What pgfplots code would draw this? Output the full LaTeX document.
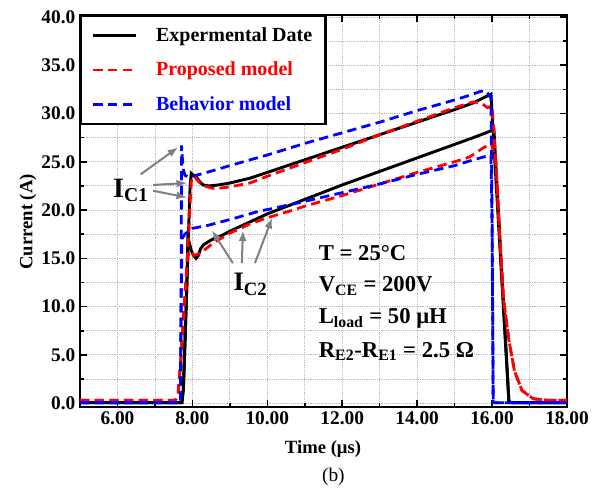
\documentclass[border=0pt]{standalone}
\usepackage{fontspec}
\setmainfont{Liberation Serif}
\usepackage{pgfplots}
\pgfplotsset{compat=1.18}
\usetikzlibrary{arrows.meta}
\definecolor{arrgray}{RGB}{128,128,128}
\begin{document}
\begin{tikzpicture}
\begin{axis}[
  at={(0pt,0pt)}, anchor=south west,
  scale only axis, width=365.25pt, height=294pt,
  xmin=5, xmax=18, ymin=-0.4, ymax=40.2,
  xtick={6,8,...,18}, ytick={0,5,...,40},
  minor x tick num=1, minor y tick num=1,
  grid=both, grid style={densely dotted, gray!55, line width=0.6pt},
  tick align=inside, major tick length=5pt, minor tick length=3pt,
  every tick/.style={black, line width=1.2pt},
  axis line style={line width=2.2pt},
  /pgf/number format/assume math mode=true,
  tick label style={font=\fontsize{14.5}{16}\selectfont\bfseries},
  xticklabel style={/pgf/number format/.cd, fixed, fixed zerofill, precision=2},
  yticklabel style={/pgf/number format/.cd, fixed, fixed zerofill, precision=1},
  xlabel={Time (μs)}, ylabel={Current (A)},
  label style={font=\fontsize{14}{16}\selectfont\bfseries},
  xlabel style={at={(axis description cs:0.499,-0.108)}, anchor=center},
  ylabel style={at={(axis description cs:-0.107,0.472)}, anchor=center},
  legend style={at={(0,1)}, anchor=north west, draw=black, line width=1.8pt, fill=white,
    font=\fontsize{15}{17}\selectfont\bfseries, inner xsep=8pt, inner ysep=6.5pt, row sep=10pt,
    /tikz/every odd column/.append style={column sep=12pt}},
  legend cell align=left,
  legend image code/.code={\draw[#1] (0pt,0pt) -- (32pt,0pt);},
]
% Experimental (black)
\addplot[black, line width=2.2pt] coordinates {
(5,0.05) (7.72,0.05) (7.76,1.5) (7.80,6) (7.85,12) (7.90,18) (7.94,22.5) (7.97,23.8)
(8.03,23.6) (8.10,23.5) (8.18,23.0) (8.28,22.6) (8.45,22.5) (8.7,22.6) (9.0,22.8)
(9.54,23.3) (10,23.9) (11,25.2) (12,26.5) (13,27.8) (14,29.1) (15,30.4) (15.5,31.1)
(15.97,32.0) (16.45,0.1) (16.55,0.05) (18,0.05)};
\addlegendentry{Expermental Date}
\addplot[black, line width=2.2pt, forget plot] coordinates {
(5,0.05) (7.72,0.05) (7.76,1.5) (7.80,6) (7.85,12) (7.88,17.0) (7.92,16.6) (7.97,15.8)
(8.03,15.3) (8.1,15.0) (8.16,15.3) (8.22,16.0) (8.3,16.4) (8.5,16.9) (8.75,17.3)
(9.0,17.8) (9.5,18.7) (10,19.6) (11,21.1) (12,22.6) (13,24.0) (14,25.4) (15,26.8)
(15.5,27.5) (15.97,28.2) (16.05,28.3) (16.45,0.1) (16.55,0.05) (18,0.05)};
% Proposed model (red)
\addplot[red, line width=2.1pt, dash pattern=on 7pt off 4pt] coordinates {
(5,0.3) (7.55,0.3) (7.62,1.0) (7.70,5) (7.78,10) (7.85,14) (7.90,17.5) (7.95,21.5)
(7.98,23.4) (8.05,23.5) (8.15,23.0) (8.3,22.5) (8.6,22.2) (9.0,22.4) (9.54,22.8)
(10,23.5) (11,24.9) (12,26.3) (13,27.8) (14,29.2) (15,30.6) (15.5,31.2) (15.7,31.1)
(15.88,30.6) (16.0,30.8) (16.1,25) (16.2,17.5) (16.3,11) (16.45,6.5) (16.6,3.3)
(16.8,1.3) (17.1,0.45) (17.5,0.3) (18,0.3)};
\addlegendentry{\textcolor{red}{Proposed model}}
\addplot[red, line width=2.1pt, dash pattern=on 7pt off 4pt, forget plot] coordinates {
(5,0.3) (7.55,0.3) (7.62,1.0) (7.70,5) (7.78,10) (7.85,14) (7.90,15.5) (7.96,15.8)
(8.05,15.3) (8.2,15.5) (8.4,16.1) (8.6,16.7) (9.0,17.6) (9.5,18.5) (10,19.2)
(10.69,20.0) (11,20.4) (12,21.5) (13,22.7) (14,23.9) (15,25.0) (15.4,25.5)
(15.75,26.4) (15.98,26.9) (16.1,25) (16.2,17.5) (16.3,11) (16.45,6.5) (16.6,3.3)
(16.8,1.3) (17.1,0.45) (17.5,0.3) (18,0.3)};
% Behavior model (blue)
\addplot[blue, line width=2.1pt, dash pattern=on 7pt off 4pt] coordinates {
(5,0.05) (7.68,0.05) (7.70,12) (7.71,26.7) (7.73,25.5) (7.76,24.2) (7.8,23.6)
(7.9,23.4) (8.1,23.6) (8.3,23.8) (9.0,24.6) (9.54,25.2) (10,25.7) (11,26.9) (12,28.0)
(13,29.1) (14,30.3) (15,31.4) (15.41,31.9) (15.7,32.3) (15.85,32.3) (15.97,31.6)
(16.0,20) (16.03,0.05) (18,0.05)};
\addlegendentry{\textcolor{blue}{Behavior model}}
\addplot[blue, line width=2.1pt, dash pattern=on 7pt off 4pt, forget plot] coordinates {
(5,0.05) (7.68,0.05) (7.70,10) (7.72,17.0) (7.8,17.5) (8.0,18.1) (8.4,18.4)
(9.08,19.1) (9.8,19.9) (10.07,20.1) (11,20.9) (12,21.8) (13,22.7) (14,23.7) (15,24.6)
(15.5,25.2) (15.97,25.7) (16.0,18) (16.03,0.05) (18,0.05)};
% annotations
\draw[arrgray, line width=1.5pt, -{Latex[length=8pt,width=6pt]}] (axis cs:6.62,23.7) -- (axis cs:7.62,26.5);
\draw[arrgray, line width=1.5pt, -{Latex[length=8pt,width=6pt]}] (axis cs:6.95,22.6) -- (axis cs:7.86,22.8);
\draw[arrgray, line width=1.5pt, -{Latex[length=8pt,width=6pt]}] (axis cs:6.95,22.0) -- (axis cs:7.86,21.3);
\node[font=\fontsize{21}{22}\selectfont\bfseries] at (axis cs:6.36,22.0) {I\textsubscript{C1}};
\draw[arrgray, line width=1.5pt, -{Latex[length=8pt,width=6pt]}] (axis cs:9.08,14.5) -- (axis cs:8.52,17.9);
\draw[arrgray, line width=1.5pt, -{Latex[length=8pt,width=6pt]}] (axis cs:9.32,14.5) -- (axis cs:9.35,17.9);
\draw[arrgray, line width=1.5pt, -{Latex[length=8pt,width=6pt]}] (axis cs:9.67,14.5) -- (axis cs:10.13,19.2);
\node[font=\fontsize{20}{21}\selectfont\bfseries] at (axis cs:9.55,12.3) {I\textsubscript{C2}};
\node[anchor=base west, font=\fontsize{17}{19}\selectfont\bfseries] at (axis cs:11.25,14.8) {T = 25°C};
\node[anchor=base west, font=\fontsize{17}{19}\selectfont\bfseries] at (axis cs:11.25,11.55) {V\textsubscript{CE} = 200V};
\node[anchor=base west, font=\fontsize{17}{19}\selectfont\bfseries] at (axis cs:11.25,8.2) {L\textsubscript{load} = 50 μH};
\node[anchor=base west, font=\fontsize{17}{19}\selectfont\bfseries] at (axis cs:11.25,4.77) {R\textsubscript{E2}-R\textsubscript{E1} = 2.5 Ω};
\end{axis}
\node[font=\fontsize{14.5}{16}\selectfont] at (190pt,-52.6pt) {(b)};
\pgfresetboundingbox
\useasboundingbox (-60pt,-64.5pt) rectangle (390pt,305.25pt);
\end{tikzpicture}
\end{document}
